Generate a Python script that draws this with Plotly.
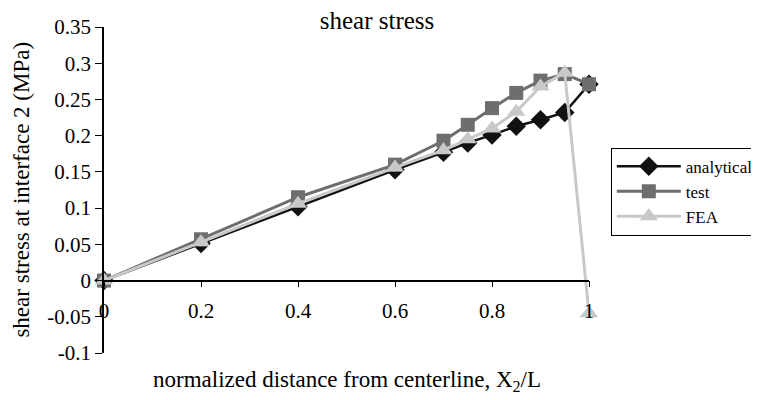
import plotly.graph_objects as go

x_vals = [0, 0.2, 0.4, 0.6, 0.7, 0.75, 0.8, 0.85, 0.9, 0.95, 1.0]
analytical = [0, 0.051, 0.102, 0.153, 0.177, 0.190, 0.201, 0.213, 0.222, 0.232, 0.271]
test = [0, 0.057, 0.115, 0.160, 0.193, 0.215, 0.238, 0.259, 0.276, 0.285, 0.271]
fea = [0, 0.053, 0.106, 0.156, 0.180, 0.195, 0.210, 0.233, 0.268, 0.287, -0.045]

y_tickvals = [-0.1, -0.05, 0, 0.05, 0.1, 0.15, 0.2, 0.25, 0.3, 0.35]
y_ticktext = ["-0.1", "-0.05", "0", "0.05", "0.1", "0.15", "0.2", "0.25", "0.3", "0.35"]
x_tickvals = [0, 0.2, 0.4, 0.6, 0.8, 1]
x_ticktext = ["0", "0.2", "0.4", "0.6", "0.8", "1"]

FONT = "Liberation Serif"

fig = go.Figure()
fig.add_trace(go.Scatter(x=x_vals, y=analytical, name="analytical", mode="lines+markers",
                         line=dict(color="#111111", width=2.5),
                         marker=dict(symbol="diamond", size=15, color="#111111"),
                         cliponaxis=False))
fig.add_trace(go.Scatter(x=x_vals, y=test, name="test", mode="lines+markers",
                         line=dict(color="#6e6e6e", width=3),
                         marker=dict(symbol="square", size=14, color="#6e6e6e"),
                         cliponaxis=False))
fig.add_trace(go.Scatter(x=x_vals, y=fea, name="FEA", mode="lines+markers",
                         line=dict(color="#c8c8c8", width=3),
                         marker=dict(symbol="triangle-up", size=16, color="#c8c8c8"),
                         cliponaxis=False))

fig.update_layout(
    width=751, height=392,
    margin=dict(l=96, r=170, t=19, b=47, autoexpand=False),
    paper_bgcolor="white", plot_bgcolor="white",
    font=dict(family=FONT, size=19, color="black"),
    title=dict(text="shear stress", x=(377 - 8) / 751, xref="container", xanchor="center",
               y=1 - 12 / 392, yref="container", yanchor="middle",
               font=dict(family=FONT, size=25, color="black")),
    showlegend=True,
    legend=dict(x=1.045, y=0.63, xanchor="left", yanchor="top",
                bordercolor="black", borderwidth=1, bgcolor="white",
                font=dict(family=FONT, size=17, color="black"),
                tracegroupgap=0, itemwidth=64),
    xaxis=dict(range=[0, 1], tickvals=x_tickvals, ticktext=x_ticktext,
               showgrid=False, zeroline=False, showline=True, linecolor="black", linewidth=1.5,
               ticks="outside", ticklen=6, tickcolor="black",
               anchor="free", position=(0 - (-0.1)) / 0.45,
               ticklabelstandoff=5,
               tickfont=dict(family=FONT, size=21, color="black")),
    yaxis=dict(range=[-0.1, 0.35], tickvals=y_tickvals, ticktext=y_ticktext,
               showgrid=False, zeroline=False, showline=True, linecolor="black", linewidth=1.5,
               ticks="outside", ticklen=7, tickcolor="black",
               tickfont=dict(family=FONT, size=21, color="black")),
    annotations=[
        dict(text="normalized distance from centerline, X<sub>2</sub>/L", x=0.5, y=-0.085,
             xref="paper", yref="paper", xanchor="center", yanchor="middle", showarrow=False,
             font=dict(family=FONT, size=23, color="black")),
        dict(text="shear stress at interface 2 (MPa)", x=-0.172, y=0.5, textangle=-90,
             xref="paper", yref="paper", xanchor="center", yanchor="middle", showarrow=False,
             font=dict(family=FONT, size=23, color="black")),
    ],
)

fig.write_html("out.html")
